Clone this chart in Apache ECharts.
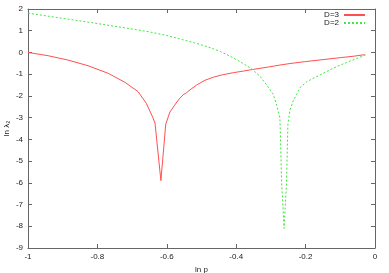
<!DOCTYPE html>
<html>
<head>
<meta charset="utf-8">
<script src="https://cdn.jsdelivr.net/npm/echarts@6/dist/echarts.min.js"></script>
<style>html,body{margin:0;padding:0;background:#fff}#c{width:389px;height:273px}</style>
</head>
<body>
<div id="c"></div>
<script>
// Data
var seriesNames = ['D=3', 'D=2'];
var xTickLabels = ['-1', '-0.8', '-0.6', '-0.4', '-0.2', '0'];
var yTickLabels = ['-9', '-8', '-7', '-6', '-5', '-4', '-3', '-2', '-1', '0', '1', '2'];

var d3X = [-1, -0.942, -0.885, -0.827, -0.769, -0.721, -0.683, -0.659, -0.640, -0.634, -0.617, -0.603, -0.591, -0.571, -0.562, -0.553, -0.543, -0.533, -0.514, -0.49, -0.466, -0.44, -0.408, -0.38, -0.355, -0.303, -0.274, -0.245, -0.2, -0.15, -0.1, -0.06, -0.03];
var d3Y = [0.0, -0.15, -0.35, -0.61, -0.96, -1.37, -1.8, -2.34, -3.0, -3.25, -5.9, -3.3, -2.74, -2.28, -2.1, -1.95, -1.85, -1.72, -1.5, -1.28, -1.14, -1.03, -0.93, -0.86, -0.79, -0.66, -0.58, -0.51, -0.42, -0.33, -0.24, -0.17, -0.1];

var d2X = [-1, -0.904, -0.808, -0.712, -0.654, -0.6, -0.562, -0.52, -0.5, -0.466, -0.445, -0.427, -0.41, -0.389, -0.355, -0.331, -0.312, -0.293, -0.283, -0.274, -0.269, -0.262, -0.255, -0.251, -0.245, -0.235, -0.226, -0.216, -0.197, -0.159, -0.12, -0.082, -0.053, -0.025];
var d2Y = [1.81, 1.58, 1.35, 1.11, 0.96, 0.78, 0.62, 0.44, 0.35, 0.17, 0.04, -0.1, -0.24, -0.42, -0.76, -1.1, -1.5, -1.93, -2.45, -3.0, -6.0, -8.1, -6.0, -3.3, -2.65, -2.2, -1.93, -1.62, -1.35, -1.04, -0.72, -0.46, -0.28, -0.1];

function pairs(xs, ys) { return xs.map(function (x, i) { return [x, ys[i]]; }); }

var font = 'Liberation Sans, Arial, sans-serif';
var axisCol = '#666';
var redCol = '#ff5050';
var greenCol = '#3ee83e';
var chart = echarts.init(document.getElementById('c'), null, {renderer: 'canvas'});

function xAx(pos, show) {
  return {
    type: 'value', position: pos, min: -1, max: 0, interval: 0.2,
    name: show ? 'ln p' : '', nameLocation: 'middle', nameGap: 18, nameMoveOverlap: false,
    nameTextStyle: {fontFamily: font, fontSize: 8, color: '#222'},
    axisLine: {show: true, onZero: false, lineStyle: {color: axisCol, width: 1}},
    axisTick: {show: true, inside: true, length: 4, lineStyle: {color: axisCol}},
    axisLabel: {show: show, fontFamily: font, fontSize: 8, color: '#222', margin: 5,
      formatter: function (v) { var i = Math.round((v + 1) / 0.2); return xTickLabels[i]; }},
    splitLine: {show: false}
  };
}
function yAx(pos, show) {
  return {
    type: 'value', position: pos, min: -9, max: 2, interval: 1,
    name: show ? 'ln λ₂' : '', nameLocation: 'middle', nameGap: 17, nameMoveOverlap: false,
    nameTextStyle: {fontFamily: font, fontSize: 8, color: '#222'},
    axisLine: {show: true, onZero: false, lineStyle: {color: axisCol, width: 1}},
    axisTick: {show: true, inside: true, length: 4, lineStyle: {color: axisCol}},
    axisLabel: {show: show, fontFamily: font, fontSize: 8, color: '#222', margin: 5,
      formatter: function (v) { return yTickLabels[Math.round(v + 9)]; }},
    splitLine: {show: false}
  };
}

chart.setOption({
  animation: false,
  backgroundColor: '#fff',
  grid: {left: 28, top: 9, right: 14, bottom: 25, containLabel: false, outerBoundsMode: 'none'},
  legend: {
    right: 23, top: 11, orient: 'vertical', align: 'right', padding: 0,
    itemWidth: 21, itemHeight: 8, itemGap: 0,
    itemStyle: {opacity: 0, borderWidth: 0},
    textStyle: {fontFamily: font, fontSize: 8, color: '#222', lineHeight: 8},
    data: seriesNames
  },
  xAxis: [xAx('bottom', true), xAx('top', false)],
  yAxis: [yAx('left', true), yAx('right', false)],
  series: [
    {name: seriesNames[0], type: 'line', data: pairs(d3X, d3Y), showSymbol: false, symbol: 'none',
     lineStyle: {color: redCol, width: 1}, itemStyle: {color: redCol}},
    {name: seriesNames[1], type: 'line', data: pairs(d2X, d2Y), showSymbol: false, symbol: 'none',
     lineStyle: {color: greenCol, width: 1, type: [2, 2]}, itemStyle: {color: greenCol}}
  ]
});
</script>
</body>
</html>
